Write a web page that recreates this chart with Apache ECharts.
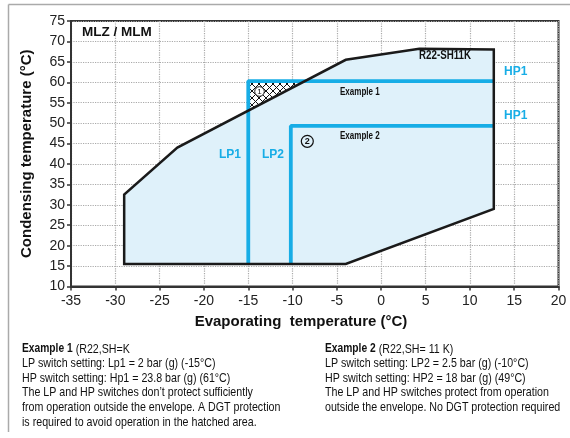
<!DOCTYPE html>
<html><head><meta charset="utf-8">
<script src="https://cdn.jsdelivr.net/npm/echarts@6/dist/echarts.min.js"></script>
<style>html,body{margin:0;padding:0;background:#fff}#c{width:570px;height:438px}</style>
</head><body><div id="c"></div>
<script>
// ---- data ----
var xTicks = [-35, 20, 5];          // min, max, step
var yTicks = [10, 75, 5];
var envelopeX = [-29, -29, -23, -4, 4.3, 12.7, 12.7, -4, -29];
var envelopeY = [15.5, 32.5, 44, 65.5, 68.2, 68, 29, 15.5, 15.5];
var hatchX = [-15, -15, -8.6];
var hatchY = [53, 60.3, 60.3];
var lp1 = [[-15, 15.5], [-15, 60.3], [12.7, 60.3]];
var lp2 = [[-10.2, 15.5], [-10.2, 49.3], [12.7, 49.3]];

var ex1 = ['LP switch setting: Lp1 = 2 bar (g) (-15°C)',
  'HP switch setting: Hp1 = 23.8 bar (g) (61°C)',
  'The LP and HP switches don\u2019t protect sufficiently',
  'from operation outside the envelope. A DGT protection',
  'is required to avoid operation in the hatched area.'];
var ex2 = ['LP switch setting: LP2 = 2.5 bar (g) (-10°C)',
  'HP switch setting: HP2 = 18 bar (g) (49°C)',
  'The LP and HP switches protect from operation',
  'outside the envelope. No DGT protection required'];

var BLUE = '#17ade6';
var SANS = '"Liberation Sans",Arial,sans-serif';

// hatch pattern
var pc = document.createElement('canvas');
pc.width = 7; pc.height = 7;
var g = pc.getContext('2d');
g.fillStyle = '#fff'; g.fillRect(0, 0, 7, 7);
g.strokeStyle = '#111'; g.lineWidth = 1;
g.beginPath();
g.moveTo(-1, -1); g.lineTo(8, 8);
g.moveTo(-1, 8); g.lineTo(8, -1);
g.stroke();

function polyItem(xs, ys, style) {
  return function (params, api) {
    var pts = [];
    for (var i = 0; i < xs.length; i++) pts.push(api.coord([xs[i], ys[i]]));
    return { type: 'polygon', shape: { points: pts }, style: style };
  };
}

var chart = echarts.init(document.getElementById('c'), null, { renderer: 'canvas' });

function T(x, y, text, font, fill, sx, align) {
  return { type: 'text', z: 100, x: x, y: y, scaleX: sx || 1,
    style: { text: text, font: font, fill: fill || '#111', align: align || 'left', verticalAlign: 'middle' } };
}

function textLines(x, y, boldHead, rest, lines) {
  var out = [{ type: 'text', z: 100, x: x, y: y, scaleX: 0.82, style: { rich: {
      b: { fontFamily: SANS, fontWeight: 'bold', fontSize: 12.5, fill: '#111' },
      n: { fontFamily: SANS, fontSize: 13, fill: '#111' } },
      text: '{b|' + boldHead + '}{n|' + rest + '}', verticalAlign: 'middle' } }];
  for (var i = 0; i < lines.length; i++) {
    out.push(T(x, y + 14.6 * (i + 1), lines[i], '13px ' + SANS, '#111', 0.82));
  }
  return out;
}

var graphics = [
  { type: 'line', shape: { x1: 8.5, y1: 4.5, x2: 570, y2: 4.5 }, style: { stroke: '#aaa', lineWidth: 1.5 } },
  { type: 'line', shape: { x1: 8.5, y1: 4.5, x2: 8.5, y2: 432 }, style: { stroke: '#aaa', lineWidth: 1.5 } },
  T(301, 322, 'Evaporating  temperature (°C)', 'bold 15px ' + SANS, '#111', 1, 'center'),
  T(82, 32, 'MLZ / MLM', 'bold 13.5px ' + SANS),
  T(419, 56, 'R22-SH11K', 'bold 12.5px ' + SANS, '#111', 0.78),
  T(340, 92, 'Example 1', 'bold 11px ' + SANS, '#111', 0.73),
  T(340, 136, 'Example 2', 'bold 11px ' + SANS, '#111', 0.73),
  T(504, 72, 'HP1', 'bold 12px ' + SANS, BLUE),
  T(504, 116, 'HP1', 'bold 12px ' + SANS, BLUE),
  T(230, 155, 'LP1', 'bold 12px ' + SANS, BLUE, 1, 'center'),
  T(273, 155, 'LP2', 'bold 12px ' + SANS, BLUE, 1, 'center'),
  { type: 'circle', z: 100, shape: { cx: 259.5, cy: 91.5, r: 4.8 }, style: { fill: '#fff', stroke: '#111', lineWidth: 1 } },
  T(259.5, 91.8, '1', '8px ' + SANS, '#111', 1, 'center'),
  { type: 'circle', z: 100, shape: { cx: 307.3, cy: 141.3, r: 6 }, style: { fill: 'rgba(0,0,0,0)', stroke: '#111', lineWidth: 1.2 } },
  T(307.3, 141.6, '2', 'bold 9px ' + SANS, '#111', 1, 'center')
];
graphics = graphics.concat(textLines(22, 349, 'Example 1', ' (R22,SH=K', ex1));
graphics = graphics.concat(textLines(325, 349, 'Example 2', ' (R22,SH= 11 K)', ex2));

chart.setOption({
  animation: false,
  backgroundColor: '#fff',
  grid: { left: 71, right: 11.5, top: 21, bottom: 151.5, show: true, borderColor: '#333', borderWidth: 2 },
  xAxis: {
    type: 'value', min: xTicks[0], max: xTicks[1], interval: xTicks[2],
    axisLine: { onZero: false, lineStyle: { color: '#333', width: 2 } },
    axisTick: { show: true, length: 4, lineStyle: { color: '#333', width: 1.5 } },
    axisLabel: { fontFamily: SANS, fontSize: 14, color: '#222', margin: 8 },
    splitLine: { lineStyle: { color: '#aaa', type: 'dotted', width: 1.2 } }
  },
  yAxis: {
    type: 'value', min: yTicks[0], max: yTicks[1], interval: yTicks[2],
    name: 'Condensing temperature (°C)', nameLocation: 'middle', nameGap: 37,
    nameTextStyle: { fontFamily: SANS, fontWeight: 'bold', fontSize: 15, color: '#111' },
    axisLine: { onZero: false, lineStyle: { color: '#333', width: 2 } },
    axisTick: { show: true, length: 4, lineStyle: { color: '#333', width: 1.5 } },
    axisLabel: { fontFamily: SANS, fontSize: 14, color: '#222', margin: 6 },
    splitLine: { lineStyle: { color: '#aaa', type: 'dotted', width: 1.2 } }
  },
  series: [
    { type: 'custom', data: [0], z: 2,
      renderItem: polyItem(envelopeX, envelopeY, { fill: '#dff1fa', stroke: null }) },
    { type: 'custom', data: [0], z: 3,
      renderItem: polyItem(hatchX, hatchY, { fill: { image: pc, repeat: 'repeat' }, stroke: null }) },
    { type: 'line', data: lp1, z: 4, symbol: 'none', lineStyle: { color: BLUE, width: 3.8 } },
    { type: 'line', data: lp2, z: 4, symbol: 'none', lineStyle: { color: BLUE, width: 3.8 } },
    { type: 'custom', data: [0], z: 5,
      renderItem: polyItem(envelopeX, envelopeY, { fill: null, stroke: '#1a1a1a', lineWidth: 2.5, lineJoin: 'miter' }) }
  ],
  graphic: graphics
});
</script></body></html>
